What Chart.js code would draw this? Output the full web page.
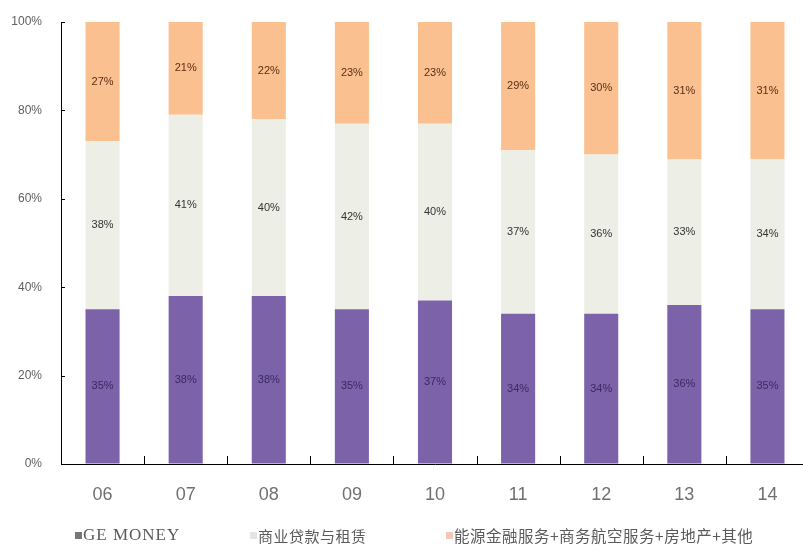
<!DOCTYPE html>
<html>
<head>
<meta charset="utf-8">
<script src="https://cdn.jsdelivr.net/npm/chart.js@4/dist/chart.umd.min.js"></script>
<style>
html,body{margin:0;padding:0;background:#fff;overflow:hidden;}
#wrap{width:812px;height:548px;}
</style>
</head>
<body>
<div id="wrap"><canvas id="c" width="812" height="548"></canvas></div>
<script>
const categories = ['06','07','08','09','10','11','12','13','14'];
const geMoney = [35,38,38,35,37,34,34,36,35];
const commercial = [38,41,40,42,40,37,36,33,34];
const energyOther = [27,21,22,23,23,29,30,31,31];
const yTicks = [0,20,40,60,80,100];
const seriesNames = ['GE MONEY','商业贷款与租赁','能源金融服务+商务航空服务+房地产+其他'];

const colors = ['#7C62A8','#EDEEE6','#FBC08F'];
const labelColors = ['#3B2A63','#333333','#5A2E16'];
const legendX = [75, 250, 446];

const labelPlugin = {
  id:'segLabels',
  afterDatasetsDraw(chart){
    const ctx = chart.ctx;
    ctx.save();
    ctx.font = '11px "Liberation Sans", Arial, sans-serif';
    ctx.textAlign='center'; ctx.textBaseline='middle';
    chart.data.datasets.forEach((ds,i)=>{
      const meta = chart.getDatasetMeta(i);
      ctx.fillStyle = labelColors[i];
      meta.data.forEach((el,j)=>{
        ctx.fillText(ds.data[j]+'%', el.x, (el.y+el.base)/2);
      });
    });
    ctx.restore();
  }
};

const tickPlugin = {
  id:'innerTicks',
  afterDraw(chart){
    const ctx = chart.ctx, ca = chart.chartArea;
    const xs = chart.scales.x, ys = chart.scales.y;
    ctx.save();
    ctx.strokeStyle='#000'; ctx.lineWidth=1;
    ctx.beginPath();
    for(let i=1;i<categories.length;i++){
      const x = Math.round((xs.getPixelForValue(i-1)+xs.getPixelForValue(i))/2)+0.5;
      ctx.moveTo(x, ca.bottom); ctx.lineTo(x, ca.bottom-8);
    }
    yTicks.forEach(v=>{
      const y = Math.round(ys.getPixelForValue(v))+0.5;
      ctx.moveTo(ca.left, y); ctx.lineTo(ca.left+4, y);
    });
    ctx.stroke();
    // legend
    const ly = 536;
    chart.data.datasets.forEach((ds,i)=>{
      ctx.fillStyle = i===0 ? '#777777' : (i===1 ? '#E4E4E4' : '#F2C7BE');
      ctx.fillRect(legendX[i], ly-4, 7, 7);
      ctx.fillStyle = '#5a5a5a';
      ctx.textBaseline='middle'; ctx.textAlign='left';
      if(i===0){
        ctx.font = '17px "Liberation Serif", serif';
        ctx.letterSpacing = '1px';
      } else {
        ctx.font = (i===1 ? '15px' : '15.5px') + ' "Noto Sans CJK SC", sans-serif';
        ctx.letterSpacing = '0.5px';
      }
      ctx.fillText(ds.label, legendX[i]+8, ly);
    });
    ctx.restore();
  }
};

new Chart(document.getElementById('c'), {
  type:'bar',
  data:{
    labels: categories,
    datasets:[
      {label:seriesNames[0], data:geMoney, backgroundColor:colors[0]},
      {label:seriesNames[1], data:commercial, backgroundColor:colors[1]},
      {label:seriesNames[2], data:energyOther, backgroundColor:colors[2]}
    ]
  },
  options:{
    responsive:false,
    animation:false,
    layout:{padding:{top:22,right:3,left:0,bottom:0}},
    datasets:{bar:{categoryPercentage:1, barPercentage:0.41}},
    plugins:{legend:{display:false}, tooltip:{enabled:false}},
    scales:{
      x:{
        stacked:true,
        grid:{drawOnChartArea:false, drawTicks:false},
        border:{color:'#000', width:1},
        ticks:{color:'#707070', font:{size:18, family:'"Liberation Sans", Arial, sans-serif'}, padding:20},
        afterFit(s){ s.height = 84; s.paddingLeft = 0; s.paddingRight = 0; }
      },
      y:{
        stacked:true, min:0, max:100,
        afterBuildTicks(s){ s.ticks = yTicks.map(v=>({value:v})); },
        grid:{drawOnChartArea:false, drawTicks:false},
        border:{color:'#000', width:1},
        ticks:{color:'#606060', font:{size:12, family:'"Liberation Sans", Arial, sans-serif'}, padding:19, callback:v=>v+'%'},
        afterFit(s){ s.width = 61; s.paddingTop = 0; s.paddingBottom = 0; }
      }
    }
  },
  plugins:[labelPlugin, tickPlugin]
});
</script>
</body>
</html>
